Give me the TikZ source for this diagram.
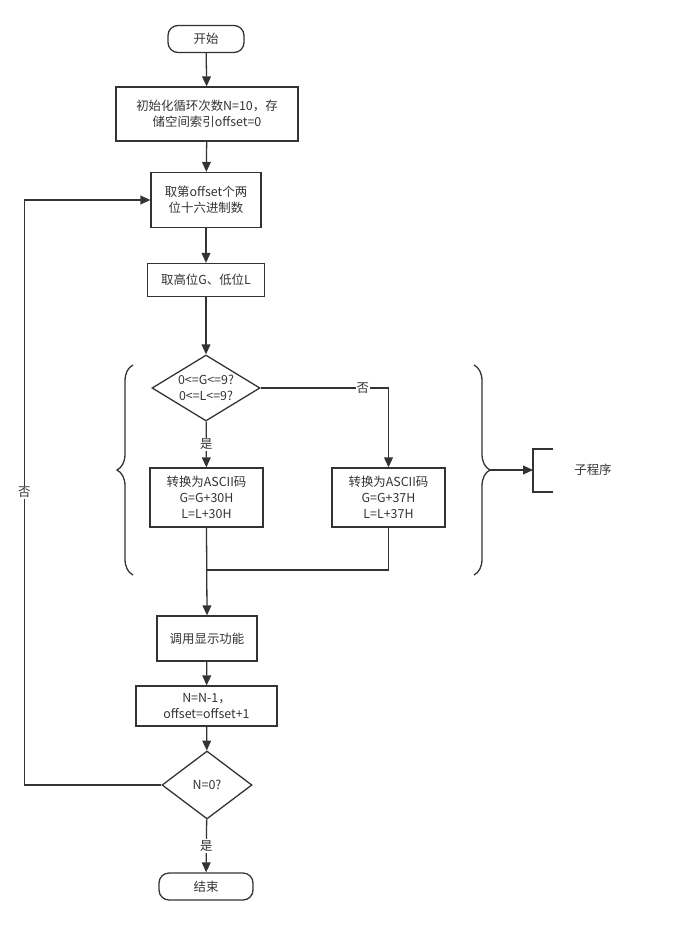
\documentclass[tikz,border=0pt]{standalone}
\usepackage{fontspec}
\setmainfont{Noto Sans CJK SC}
\usetikzlibrary{arrows.meta, positioning, shapes.geometric, decorations.pathreplacing}
\definecolor{ink}{HTML}{333333}

\begin{document}
\begin{tikzpicture}[
    x=0.03cm, y=-0.03cm,
    font=\fontsize{10.6}{13.5}\selectfont,
    text=ink,
    box/.style={draw=ink, line width=1.1pt, align=center, inner sep=2pt},
    term/.style={box, rounded corners=0.3cm},
    decision/.style={diamond, draw=ink, line width=1.1pt, inner sep=0pt},
    arr/.style={-{Triangle[length=8.5pt, width=7.5pt]}, line width=1.1pt, draw=ink},
    ln/.style={line width=1.1pt, draw=ink},
    lbl/.style={fill=white, inner sep=1pt}
]
\useasboundingbox (0,0) rectangle (678,925);

% ---- main column ----
\node[term, minimum width=2.28cm, minimum height=0.81cm] (start) at (206,39) {开始};
\node[box, minimum width=5.46cm, minimum height=1.62cm] (init) at (207,114)
    {初始化循环次数N=10，存\\储空间索引offset=0};
\node[box, minimum width=3.3cm, minimum height=1.65cm] (fetch) at (206,200)
    {取第offset个两\\位十六进制数};
\node[box, minimum width=3.51cm, minimum height=0.99cm] (split) at (206,280)
    {取高位G、低位L};

% ---- subroutine: conversion ----
\node[decision, minimum width=3.24cm, minimum height=1.98cm,
      label={[align=center]center:{0<=G<=9?\\0<=L<=9?}}] (chk) at (206,388) {};
\node[box, minimum width=3.39cm, minimum height=1.77cm] (digit) at (206.5,497.5)
    {转换为ASCII码\\G=G+30H\\L=L+30H};
\node[box, minimum width=3.39cm, minimum height=1.77cm] (letter) at (388.5,497.5)
    {转换为ASCII码\\G=G+37H\\L=L+37H};
\coordinate (merge) at (206,570);

% ---- rest of loop ----
\node[box, minimum width=3.0cm, minimum height=1.35cm] (disp) at (207,638.5)
    {调用显示功能};
\node[box, minimum width=4.23cm, minimum height=1.2cm] (dec) at (206.5,706)
    {N=N-1，\\offset=offset+1};
\node[decision, minimum width=2.7cm, minimum height=2.04cm,
      label={center:{N=0?}}] (zero) at (207,785) {};
\node[term, minimum width=2.82cm, minimum height=0.81cm] (stop) at (206,886.5) {结束};

% ---- connectors ----
\draw[arr] (start) -- (init);
\draw[arr] (init) -- (fetch);
\draw[arr] (fetch) -- (split);
\draw[arr] (split) -- (chk);
\draw[arr] (chk) -- node[lbl]{是} (digit);
\draw[arr] (chk.east) -| node[lbl, pos=0.4]{否} (letter.north);
\draw[ln] (letter.south) |- (merge);
\draw[arr] (digit.south) -- (disp.north);
\draw[arr] (disp) -- (dec);
\draw[arr] (dec) -- (zero);
\draw[arr] (zero) -- node[lbl]{是} (stop);
\draw[arr] (zero.west) -- ++(-137,0) |- node[lbl, pos=0.25]{否} (fetch.west);

% ---- braces and annotation ----
\draw[ln, decorate, decoration={brace, amplitude=0.48cm}] (133,575) -- (133,365);
\draw[ln, decorate, decoration={brace, amplitude=0.48cm}] (474,365) -- (474,575);
\coordinate (btip) at (490,470);
\coordinate (annot) at (533,470);
\draw[arr] (btip) -- (annot);
\draw[ln] (553,449) -- (533,449) -- (533,492) -- (553,492);
\node (sub) at (593,470) {子程序};

\end{tikzpicture}
\end{document}
